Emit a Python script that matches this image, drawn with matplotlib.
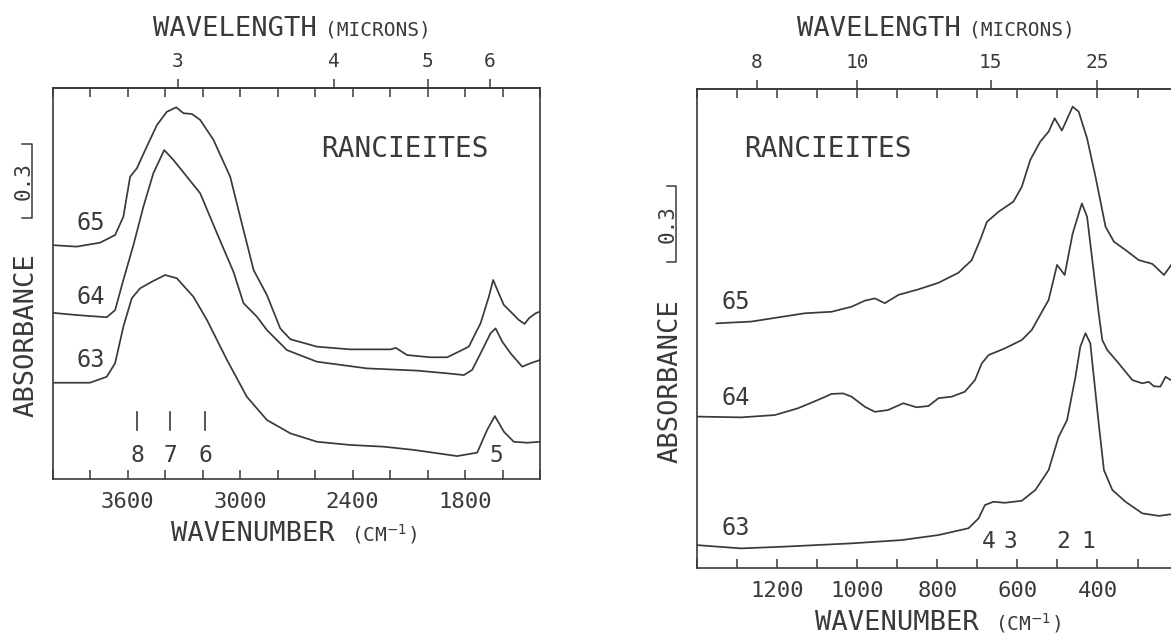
import matplotlib
matplotlib.use("Agg")
import matplotlib.pyplot as plt
from matplotlib.ticker import FixedLocator, MultipleLocator, NullFormatter

# ---- data (wavenumber cm-1, absorbance incl. offset) ----
# left panel, 4000-1400 cm-1
oh_wn65 = [4000, 3872, 3747, 3667, 3623, 3587, 3551, 3498, 3444, 3391, 3341, 3302, 3257, 3213,
           3142, 3053, 2982, 2928, 2857, 2786, 2732, 2590, 2412, 2198, 2169, 2109, 1984, 1895,
           1833, 1780, 1717, 1673, 1650, 1620, 1593, 1548, 1513, 1482, 1459, 1424, 1400]
oh_abs65 = [0.948, 0.942, 0.958, 0.989, 1.063, 1.225, 1.259, 1.347, 1.434, 1.488, 1.506, 1.482,
            1.479, 1.455, 1.374, 1.225, 1.009, 0.847, 0.746, 0.611, 0.567, 0.537, 0.526, 0.526,
            0.532, 0.503, 0.494, 0.494, 0.517, 0.537, 0.632, 0.739, 0.807, 0.753, 0.706, 0.672,
            0.645, 0.629, 0.652, 0.672, 0.679]

oh_wn64 = [4000, 3872, 3712, 3667, 3623, 3569, 3516, 3463, 3405, 3356, 3284, 3213, 3124, 3035,
           2982, 2910, 2857, 2750, 2590, 2323, 2055, 1895, 1806, 1762, 1717, 1664, 1637, 1601,
           1557, 1495, 1450, 1400]
oh_abs64 = [0.674, 0.665, 0.656, 0.685, 0.807, 0.949, 1.104, 1.239, 1.333, 1.293, 1.225, 1.158,
            0.997, 0.839, 0.713, 0.658, 0.604, 0.523, 0.476, 0.449, 0.440, 0.429, 0.422, 0.443,
            0.510, 0.591, 0.611, 0.557, 0.510, 0.456, 0.470, 0.483]

oh_wn63 = [4000, 3801, 3712, 3667, 3623, 3578, 3534, 3471, 3400, 3338, 3249, 3177, 3070, 2964,
           2857, 2732, 2590, 2412, 2234, 2074, 1842, 1735, 1682, 1641, 1593, 1540, 1468, 1400]
oh_abs63 = [0.391, 0.391, 0.415, 0.470, 0.618, 0.733, 0.773, 0.800, 0.827, 0.814, 0.739, 0.645,
            0.483, 0.334, 0.240, 0.186, 0.152, 0.139, 0.132, 0.119, 0.094, 0.108, 0.200, 0.256,
            0.193, 0.152, 0.148, 0.152]

# right panel, 1400-200 cm-1
mn_wn65 = [1352, 1265, 1131, 1064, 1014, 981, 956, 931, 897, 847, 797, 747, 714, 693, 676, 647,
           610, 589, 568, 543, 522, 507, 489, 462, 447, 426, 405, 380, 359, 330, 297, 263, 234, 213, 200]
mn_abs65 = [0.972, 0.979, 1.012, 1.018, 1.038, 1.062, 1.071, 1.052, 1.085, 1.107, 1.133, 1.173,
            1.223, 1.303, 1.375, 1.415, 1.455, 1.514, 1.620, 1.693, 1.733, 1.786, 1.737, 1.832,
            1.812, 1.706, 1.554, 1.356, 1.296, 1.263, 1.223, 1.208, 1.164, 1.210, 1.240]

mn_wn64 = [1400, 1290, 1206, 1148, 1098, 1064, 1035, 1014, 981, 956, 923, 885, 852, 822, 797, 764,
           731, 706, 689, 672, 631, 589, 564, 555, 522, 501, 482, 462, 439, 426, 413, 397, 388,
           376, 347, 313, 288, 272, 259, 243, 230, 217, 200]
mn_abs64 = [0.602, 0.599, 0.608, 0.635, 0.668, 0.692, 0.694, 0.681, 0.641, 0.621, 0.628, 0.655,
            0.639, 0.644, 0.675, 0.681, 0.701, 0.747, 0.813, 0.846, 0.873, 0.906, 0.946, 0.972,
            1.065, 1.204, 1.164, 1.329, 1.448, 1.395, 1.223, 1.012, 0.906, 0.867, 0.813, 0.747,
            0.734, 0.740, 0.722, 0.721, 0.760, 0.747, 0.750]

mn_wn63 = [1400, 1290, 1181, 1014, 889, 797, 722, 697, 681, 660, 631, 589, 555, 522, 497, 476,
           455, 443, 430, 418, 397, 384, 363, 330, 288, 247, 213, 200]
mn_abs63 = [0.092, 0.079, 0.086, 0.099, 0.112, 0.132, 0.159, 0.198, 0.251, 0.264, 0.260, 0.268,
            0.311, 0.390, 0.522, 0.588, 0.760, 0.879, 0.933, 0.893, 0.575, 0.390, 0.311, 0.264,
            0.218, 0.208, 0.215, 0.218]

oh_band_wn = [3548, 3373, 3186]
oh_band_lbl = ['8', '7', '6']
mn_band_wn = [672, 618, 487, 424]
mn_band_lbl = ['4', '3', '2', '1']

top_um_left = [3, 4, 5, 6]
top_um_right = [8, 10, 15, 25]

W, H = 1171, 634
INK = '#3a3a3a'
plt.rcParams['font.family'] = ['DejaVu Sans Mono', 'DejaVu Sans']
plt.rcParams['mathtext.fontset'] = 'dejavusans'
plt.rcParams['text.color'] = INK


def fx(px):
    return px / W


def fy(py):
    return 1 - py / H


def setupAx(ax, xlim, ylim, majors, minor_step, um_ticks):
    ax.set_xlim(*xlim)
    ax.set_ylim(*ylim)
    ax.set_yticks([])
    for sp in ax.spines.values():
        sp.set_linewidth(1.2)
        sp.set_color(INK)
    ax.xaxis.set_major_locator(FixedLocator(majors))
    ax.xaxis.set_minor_locator(MultipleLocator(minor_step))
    ax.xaxis.set_minor_formatter(NullFormatter())
    ax.tick_params(axis='x', which='both', direction='in', top=True, bottom=True,
                   length=6.5, width=1.1, color=INK, labelsize=16, pad=9, labelcolor=INK)
    sec = ax.secondary_xaxis('top', functions=(lambda w: 1e4 / w, lambda m: 1e4 / m))
    sec.set_xticks(um_ticks)
    sec.set_xticklabels([str(u) for u in um_ticks])
    sec.xaxis.set_minor_locator(FixedLocator([]))
    sec.tick_params(axis='x', direction='out', length=6.5, width=1.1, color=INK,
                    labelsize=14, pad=6, labelcolor=INK)
    sec.spines['top'].set_linewidth(1.2)
    sec.spines['top'].set_color(INK)
    return sec


def scaleBar(ax, y0, y1):
    tr = ax.get_yaxis_transform()
    ax.plot([-0.062, -0.043, -0.043, -0.062], [y0, y0, y1, y1], transform=tr,
            color=INK, lw=1.1, clip_on=False)


def drawSpectra(ax, series):
    for wn, ab in series:
        ax.plot(wn, ab, color=INK, lw=1.25, solid_joinstyle='round', solid_capstyle='round')


fig = plt.figure(figsize=(W / 100, H / 100), dpi=100)

# ---------------- left panel ----------------
L0, L1, T0, B0 = 52.7, 540.0, 88.3, 479.3
ax1 = fig.add_axes([fx(L0), fy(B0), (L1 - L0) / W, (B0 - T0) / H])
setupAx(ax1, (4000, 1400), (0, (B0 - T0) / 247), [3600, 3000, 2400, 1800], 200, top_um_left)
drawSpectra(ax1, [(oh_wn65, oh_abs65), (oh_wn64, oh_abs64), (oh_wn63, oh_abs63)])
for lbl, yb in [('65', 1.008), ('64', 0.708), ('63', 0.455)]:
    ax1.text(3795, yb, lbl, fontsize=17, ha='center', va='baseline')
for wn, lbl in zip(oh_band_wn, oh_band_lbl):
    ax1.plot([wn, wn], [0.200, 0.274], color=INK, lw=1.2)
    ax1.text(wn, 0.072, lbl, fontsize=16.5, ha='center', va='baseline')
ax1.text(1632, 0.072, '5', fontsize=16.5, ha='center', va='baseline')
ax1.text(2123, 1.306, 'RANCIEITES', fontsize=20, ha='center', va='baseline')
scaleBar(ax1, 1.057, 1.357)

# ---------------- right panel ----------------
R0, R1, T1, B1 = 697.0, 1177.6, 89.3, 568.3
ax2 = fig.add_axes([fx(R0), fy(B1), (R1 - R0) / W, (B1 - T1) / H])
setupAx(ax2, (1400, 200), (0, (B1 - T1) / 252), [1200, 1000, 800, 600, 400], 100, top_um_right)
drawSpectra(ax2, [(mn_wn65, mn_abs65), (mn_wn64, mn_abs64), (mn_wn63, mn_abs63)])
for lbl, yb in [('65', 1.028), ('64', 0.647), ('63', 0.131)]:
    ax2.text(1302, yb, lbl, fontsize=17, ha='center', va='baseline')
for wn, lbl in zip(mn_band_wn, mn_band_lbl):
    ax2.text(wn, 0.082, lbl, fontsize=16.5, ha='center', va='baseline')
ax2.text(1072, 1.631, 'RANCIEITES', fontsize=20, ha='center', va='baseline')
scaleBar(ax2, 1.217, 1.517)

# ---------------- axis titles (figure text) ----------------
for a0, bot, ycen_abs, ycen_bar in [(L0, B0, 335, 181), (R0, B1, 380.7, 224)]:
    fig.text(fx(a0 + 100), fy(36), 'WAVELENGTH', fontsize=19.5, ha='left', va='baseline')
    fig.text(fx(a0 + 272), fy(35.5), '(MICRONS)', fontsize=14, ha='left', va='baseline')
    fig.text(fx(a0 + 118), fy(bot + 62), 'WAVENUMBER', fontsize=19.5, ha='left', va='baseline')
    fig.text(fx(a0 + 298), fy(bot + 62), '(CM$^{-1}$)', fontsize=14, ha='left', va='baseline')
    fig.text(fx(a0 - 19.5), fy(ycen_abs), 'ABSORBANCE', fontsize=19.5, rotation=90,
             rotation_mode='anchor', ha='center', va='baseline')
    fig.text(fx(a0 - 23), fy(ycen_bar), '0.3', fontsize=15, rotation=90,
             rotation_mode='anchor', ha='center', va='baseline')

fig.savefig('out.png', dpi=100, facecolor='white')
